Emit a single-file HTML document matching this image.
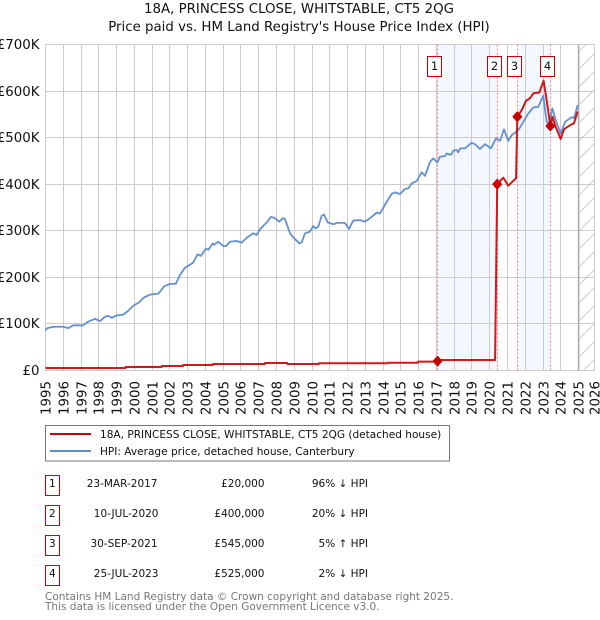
<!DOCTYPE html>
<html lang="en">
<head>
<meta charset="utf-8">
<title>18A, PRINCESS CLOSE, WHITSTABLE, CT5 2QG</title>
<style>
html,body{margin:0;padding:0;background:#fff;}
svg{display:block;font-family:"DejaVu Sans",sans-serif;}
</style>
</head>
<body>
<svg id="chart" xmlns="http://www.w3.org/2000/svg" width="600" height="620" viewBox="0 0 600 620">
  <defs>
    <pattern id="hatch" patternUnits="userSpaceOnUse" width="18" height="18">
      <path d="M-2 20 L20 -2 M-2 2 L2 -2 M16 20 L20 16" stroke="#cfcfcf" stroke-width="1" fill="none"/>
    </pattern>
  </defs>
  <rect width="600" height="620" fill="#fff"/>
  <text x="299" y="13" text-anchor="middle" font-size="13.35" fill="#111">18A, PRINCESS CLOSE, WHITSTABLE, CT5 2QG</text>
  <text x="299" y="31" text-anchor="middle" font-size="13.35" fill="#111">Price paid vs. HM Land Registry's House Price Index (HPI)</text>
  <g id="plot"></g>

  <g>
    <rect x="45.5" y="425.5" width="404" height="35.5" fill="#fff" stroke="#777" stroke-width="1"/>
    <line x1="50" x2="91" y1="434" y2="434" stroke="#cc0000" stroke-width="2"/>
    <text x="100" y="438" font-size="10.55" fill="#111">18A, PRINCESS CLOSE, WHITSTABLE, CT5 2QG (detached house)</text>
    <line x1="50" x2="91" y1="451" y2="451" stroke="#5b8bd0" stroke-width="2"/>
    <text x="100" y="455" font-size="10.55" fill="#111">HPI: Average price, detached house, Canterbury</text>
  </g>

  <g font-size="10.5" fill="#111">
    <g>
      <rect x="45.5" y="475.5" width="14" height="20" fill="#fff" stroke="#cc0000"/>
      <text x="52.3" y="487" text-anchor="middle">1</text>
      <text x="157.5" y="487" text-anchor="end">23-MAR-2017</text>
      <text x="264.5" y="487" text-anchor="end">£20,000</text>
      <text x="368" y="487" text-anchor="end">96% ↓ HPI</text>
    </g>
    <g>
      <rect x="45.5" y="505.5" width="14" height="20" fill="#fff" stroke="#cc0000"/>
      <text x="52.3" y="517" text-anchor="middle">2</text>
      <text x="158.5" y="517" text-anchor="end">10-JUL-2020</text>
      <text x="264.5" y="517" text-anchor="end">£400,000</text>
      <text x="368" y="517" text-anchor="end">20% ↓ HPI</text>
    </g>
    <g>
      <rect x="45.5" y="535.5" width="14" height="20" fill="#fff" stroke="#cc0000"/>
      <text x="52.3" y="547" text-anchor="middle">3</text>
      <text x="157.5" y="547" text-anchor="end">30-SEP-2021</text>
      <text x="264.5" y="547" text-anchor="end">£545,000</text>
      <text x="368" y="547" text-anchor="end">5% ↑ HPI</text>
    </g>
    <g>
      <rect x="45.5" y="565.5" width="14" height="20" fill="#fff" stroke="#cc0000"/>
      <text x="52.3" y="577" text-anchor="middle">4</text>
      <text x="158.5" y="577" text-anchor="end">25-JUL-2023</text>
      <text x="264.5" y="577" text-anchor="end">£525,000</text>
      <text x="368" y="577" text-anchor="end">2% ↓ HPI</text>
    </g>
  </g>

  <text x="45" y="600" font-size="10.5" fill="#777">Contains HM Land Registry data © Crown copyright and database right 2025.</text>
  <text x="45" y="610" font-size="10.5" fill="#777">This data is licensed under the Open Government Licence v3.0.</text>
</svg>
<script>
const yearTicks = [1995,1996,1997,1998,1999,2000,2001,2002,2003,2004,2005,2006,2007,2008,2009,2010,2011,2012,2013,2014,2015,2016,2017,2018,2019,2020,2021,2022,2023,2024,2025,2026];
const valueTicks = [0,100,200,300,400,500,600,700];
const valueTickLabels = ['£0','£100K','£200K','£300K','£400K','£500K','£600K','£700K'];

const hpiYears = [1995.00,1995.10,1995.44,1996.00,1996.28,1996.56,1996.98,1997.07,1997.41,1997.79,1998.07,1998.35,1998.53,1998.73,1998.97,1999.38,1999.66,1999.94,2000.28,2000.50,2000.88,2001.35,2001.69,2002.01,2002.33,2002.57,2002.85,2003.13,2003.32,2003.56,2003.75,2004.03,2004.16,2004.41,2004.48,2004.72,2005.01,2005.16,2005.38,2005.76,2006.04,2006.32,2006.69,2006.88,2007.07,2007.45,2007.69,2007.91,2008.16,2008.35,2008.48,2008.76,2008.94,2009.28,2009.42,2009.60,2009.88,2010.07,2010.21,2010.35,2010.54,2010.67,2010.88,2011.20,2011.39,2011.85,2012.08,2012.32,2012.70,2012.98,2013.26,2013.64,2013.82,2014.29,2014.48,2014.67,2014.95,2015.23,2015.42,2015.61,2015.89,2016.17,2016.36,2016.64,2016.82,2017.05,2017.20,2017.48,2017.58,2017.82,2017.95,2018.14,2018.23,2018.33,2018.61,2018.98,2019.17,2019.45,2019.73,2020.07,2020.35,2020.58,2020.80,2021.04,2021.24,2021.61,2021.89,2022.17,2022.45,2022.73,2023.01,2023.20,2023.35,2023.52,2023.71,2023.99,2024.24,2024.61,2024.74,2024.95];
const hpiValues = [86,91,94,94,91,97,97,96,105,111,106,115.5,117.6,113,118,120,128.5,139,146.5,155.7,163,165,181,186,186,205,221,227,232,249.5,246,262,259,273,270,276.5,267,267,276.5,278,274.5,285,294.6,291,303,318,330,327,319.5,327,325,294.6,286,273,275,294.6,298,310,305,309,332,335,318,314,317,317,304,322,323,319.5,327,339,337,368,379,382.5,379,390,391,402,407,425.5,418,448,455.5,447,459,460.5,466,463,472,473.5,468.5,477,477,489,486,475.6,486,477,498.6,493,518,493,505.7,516,534,552,565,566,590,534,531,563,538,509,534,544,542,570];

const priceYears = [1995.00,1999.50,1999.51,2001.53,2001.54,2002.74,2002.75,2004.42,2004.43,2007.34,2007.35,2008.60,2008.61,2010.38,2010.39,2014.26,2014.27,2015.95,2015.96,2017.05,2017.06,2020.30,2020.42,2020.76,2021.04,2021.48,2021.55,2021.80,2022.04,2022.26,2022.45,2022.79,2023.03,2023.20,2023.41,2023.53,2023.71,2023.99,2024.18,2024.37,2024.61,2024.74,2024.95];
const priceValues = [5.3,5.3,7.5,7.5,9.6,9.6,11.8,11.8,14,14,16,16,14,14,15.6,15.6,16.7,16.7,19,19,22.5,22.5,400,414,397,412.7,545,559,579,584.6,595,597,622,581,525,545,523,497,518,523,528.6,531,556];

const saleNumbers = [1,2,3,4];
const saleYears = [2017.06,2020.42,2021.55,2023.41];
const saleValues = [20,400,545,525];
const shadedSpans = [[0,1],[2,3]];
const lastDataYear = 2025;

const NS = 'http://www.w3.org/2000/svg';
const plot = document.getElementById('plot');
const LEFT = 45.5, RIGHT = 594.5, TOP = 44.5, BOTTOM = 370.5;
function xScale(year){ return LEFT + (year - 1995) * 17.77; }
function yScale(v){ return BOTTOM - v * (BOTTOM - TOP) / 700; }
function snap(p){ return Math.floor(p) + 0.5; }
function make(tag, attrs, parent){
  const el = document.createElementNS(NS, tag);
  for (const k in attrs) el.setAttribute(k, attrs[k]);
  (parent || plot).appendChild(el);
  return el;
}
function pathFrom(xs, ys){
  return xs.map(function(t, i){ return (i ? 'L' : 'M') + xScale(t).toFixed(2) + ' ' + yScale(ys[i]).toFixed(2); }).join(' ');
}

/* shaded spans between sale markers */
shadedSpans.forEach(function(span, i){
  const x0 = xScale(saleYears[span[0]]), x1 = xScale(saleYears[span[1]]);
  const el = make('rect', {x:x0, y:TOP, width:x1-x0, height:BOTTOM-TOP, fill:'#f3f7fe'});
  
  
});

/* no-data hatch */
const hatchX = xScale(lastDataYear);
const hatch = make('rect', {x:hatchX, y:TOP, width:RIGHT-hatchX, height:BOTTOM-TOP, fill:'url(#hatch)'});



/* grid + x ticks */
yearTicks.forEach(function(year){
  const gx = Math.min(snap(xScale(year)), RIGHT);
  const line = make('line', {x1:gx, x2:gx, y1:TOP, y2:BOTTOM, stroke:'#cccccc', 'stroke-width':1});
  
  
  const tx = gx + 5;
  const label = make('text', {x:tx, y:415, 'font-size':13.35, fill:'#111', transform:'rotate(-90 ' + tx + ' 415)'});
  label.textContent = year;
  
  
});

/* y grid + labels */
valueTicks.forEach(function(v, i){
  const gy = snap(yScale(v));
  const line = make('line', {x1:LEFT, x2:RIGHT, y1:gy, y2:gy, stroke:'#cccccc', 'stroke-width':1});
  
  
  const label = make('text', {x:39.5, y:gy + 4.5, 'text-anchor':'end', 'font-size':13.35, fill:'#111'});
  label.textContent = valueTickLabels[i];
  
  
});

/* end-of-data line */
const endLine = make('line', {x1:hatchX, x2:hatchX, y1:TOP, y2:BOTTOM, stroke:'#a8a8a8', 'stroke-width':1.5});



/* sale dotted guide lines */
saleYears.forEach(function(year, i){
  const gx = snap(xScale(year));
  const line = make('line', {x1:gx, x2:gx, y1:TOP, y2:BOTTOM, stroke:'#ff7f8a', 'stroke-width':1, 'stroke-dasharray':'2 2'});
  
  
});

/* series */
const hpiPath = make('path', {d:pathFrom(hpiYears, hpiValues), fill:'none', stroke:'#5b8bd0', 'stroke-width':1.8, 'stroke-linejoin':'round', opacity:0.95});


const pricePath = make('path', {d:pathFrom(priceYears, priceValues), fill:'none', stroke:'#cc0000', 'stroke-width':2, 'stroke-linejoin':'round', opacity:0.9});



/* sale markers and number boxes */
saleYears.forEach(function(year, i){
  const mx = xScale(year), my = yScale(saleValues[i]);
  const d = make('path', {d:'M' + (mx-4) + ' ' + my + ' L' + mx + ' ' + (my-4.5) + ' L' + (mx+4) + ' ' + my + ' L' + mx + ' ' + (my+4.5) + ' Z', fill:'#cc0000', stroke:'#cc0000', 'stroke-width':1.6, 'stroke-linejoin':'round'});
  
  
  const bx = Math.floor(mx - 10) + 0.5;
  const box = make('rect', {x:bx, y:56.5, width:14, height:20, fill:'#fff', stroke:'#cc0000', 'stroke-width':1});
  
  
  const num = make('text', {x:bx + 7, y:70, 'text-anchor':'middle', 'font-size':11.5, fill:'#111'});
  num.textContent = saleNumbers[i];
  
  
});
</script>
</body>
</html>
